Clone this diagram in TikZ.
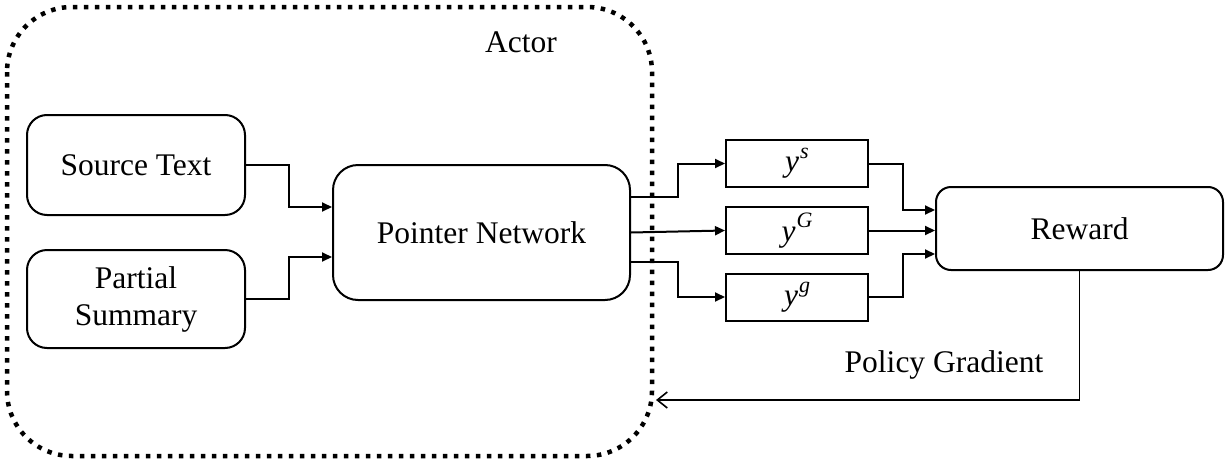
\documentclass[tikz,border=0pt]{standalone}
\usepackage{fontspec}
\setmainfont{Liberation Serif}
\usetikzlibrary{arrows.meta}
\newcommand{\ysup}[1]{\textit{y}\kern1pt\raisebox{0.42em}{\fontsize{22}{22}\selectfont\textit{#1}}}
\begin{document}
\begin{tikzpicture}[x=1pt,y=-1pt,
  every node/.style={font=\fontsize{31.5}{37}\selectfont},
  rbox/.style={draw,line width=2pt,rounded corners=20pt,align=center,inner sep=0pt},
  ybox/.style={draw,line width=2pt,inner sep=0pt,minimum width=142pt,minimum height=47pt},
  arr/.style={line width=2pt,-{Triangle[length=10pt,width=9pt]}},
  fb/.style={line width=1.6pt,-{Straight Barb[length=10pt,width=16pt,line width=1.6pt]}},
  dotbox/.style={line width=4.5pt,dash pattern=on 4.5pt off 6.5pt,rounded corners=65pt}
]
\useasboundingbox (0,0) rectangle (1225,463);
\draw[dotbox] (7,7) rectangle (652,456);
\node (actor) at (521,42) {Actor};
\node[rbox,minimum width=218pt,minimum height=100pt] (src) at (136,165) {Source Text};
\node[rbox,minimum width=218pt,minimum height=98pt] (ps) at (136,299) {Partial\\Summary};
\node[rbox,rounded corners=25pt,minimum width=297pt,minimum height=135pt] (pn) at (481.5,232.5) {Pointer Network};
\node[ybox] (ys) at (797,163.5) {\ysup{s}};
\node[ybox] (yG) at (797,230.5) {\ysup{G}};
\node[ybox] (yg) at (797,297) {\ysup{g}};
\node[rbox,rounded corners=15pt,minimum width=287pt,minimum height=83pt] (rw) at (1079.5,228.5) {Reward};
\node (pg) at (944,365) {Policy Gradient};
\coordinate (fbend) at (656,400);
\draw[arr] (src.east) -- ++(43,0) |- ([yshift=25.5pt]pn.west);
\draw[arr] (ps.east) -- ++(43,0) |- ([yshift=-24.5pt]pn.west);
\draw[arr] ([yshift=35.5pt]pn.east) -- ++(47,0) |- (ys.west);
\draw[arr] (pn.east) -- (yG.west);
\draw[arr] ([yshift=-29.5pt]pn.east) -- ++(47,0) |- (yg.west);
\draw[arr] (ys.east) -- ++(34,0) |- ([yshift=18.5pt]rw.west);
\draw[arr] (yG.east) -- (yG.east -| rw.west);
\draw[arr] (yg.east) -- ++(34,0) |- ([yshift=-25.5pt]rw.west);
\draw[fb] (rw.south) |- (fbend);
\end{tikzpicture}
\end{document}
